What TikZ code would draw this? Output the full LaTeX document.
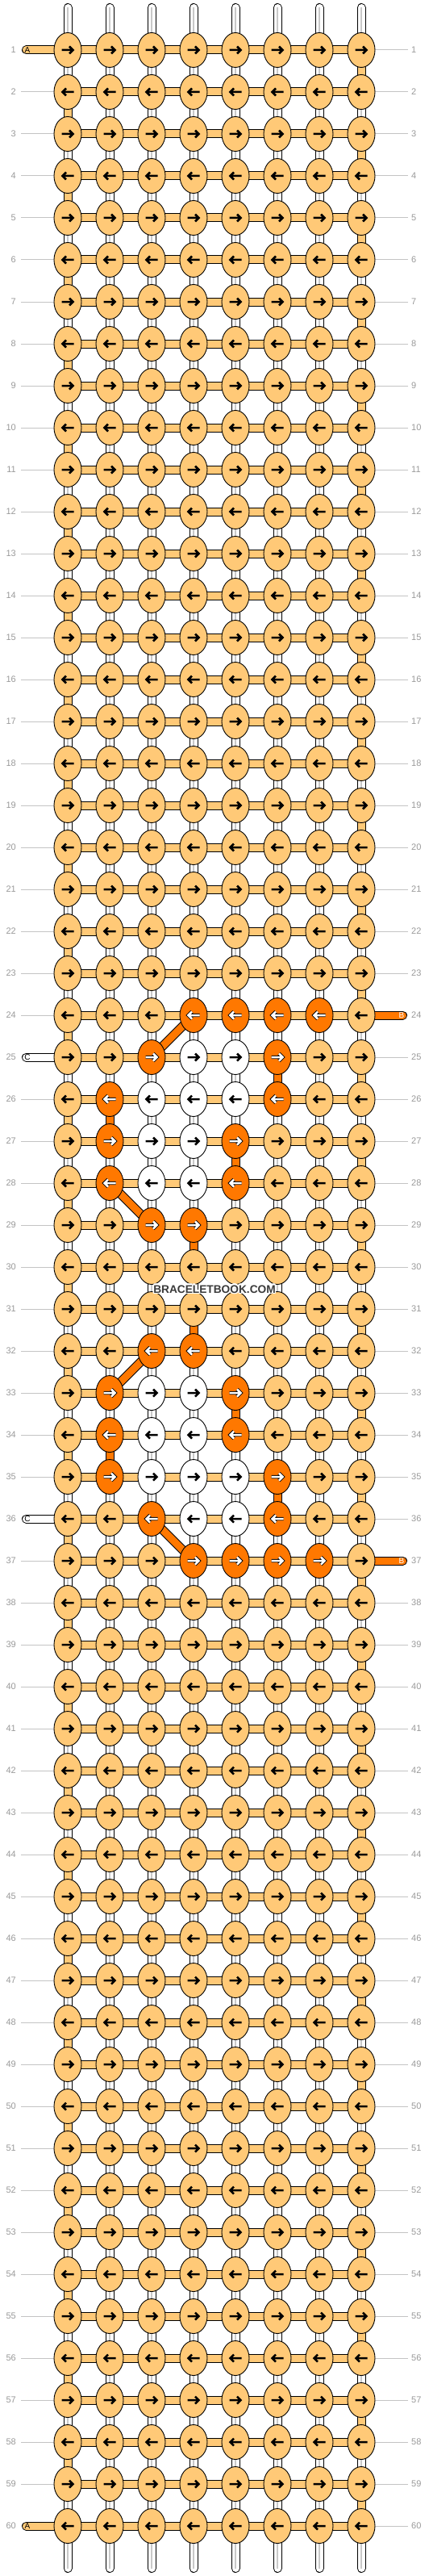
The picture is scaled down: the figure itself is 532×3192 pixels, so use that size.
\documentclass[tikz,border=0pt]{standalone}
\usepackage{fontspec}
\setmainfont{Liberation Sans}
\usepackage{contour}
\contourlength{1.3pt}
\usetikzlibrary{shapes.geometric,backgrounds}

\definecolor{lightor}{HTML}{FFC977}
\definecolor{darkor}{HTML}{FF7800}
\definecolor{rowgray}{HTML}{999999}
\definecolor{linegray}{HTML}{C4C4C4}
\definecolor{warpgray}{HTML}{C8C8C8}
\definecolor{markgray}{HTML}{3A3A3A}

% knots and warp links that are not the plain light colour
\tikzset{
  k24-4/.style=darkknot, k24-5/.style=darkknot, k24-6/.style=darkknot, k24-7/.style=darkknot,
  k25-3/.style=darkknot, k25-4/.style=whiteknot, k25-5/.style=whiteknot, k25-6/.style=darkknot,
  k26-2/.style=darkknot, k26-3/.style=whiteknot, k26-4/.style=whiteknot, k26-5/.style=whiteknot, k26-6/.style=darkknot,
  k27-2/.style=darkknot, k27-3/.style=whiteknot, k27-4/.style=whiteknot, k27-5/.style=darkknot,
  k28-2/.style=darkknot, k28-3/.style=whiteknot, k28-4/.style=whiteknot, k28-5/.style=darkknot,
  k29-3/.style=darkknot, k29-4/.style=darkknot,
  k32-3/.style=darkknot, k32-4/.style=darkknot,
  k33-2/.style=darkknot, k33-3/.style=whiteknot, k33-4/.style=whiteknot, k33-5/.style=darkknot,
  k34-2/.style=darkknot, k34-3/.style=whiteknot, k34-4/.style=whiteknot, k34-5/.style=darkknot,
  k35-2/.style=darkknot, k35-3/.style=whiteknot, k35-4/.style=whiteknot, k35-5/.style=whiteknot, k35-6/.style=darkknot,
  k36-3/.style=darkknot, k36-4/.style=whiteknot, k36-5/.style=whiteknot, k36-6/.style=darkknot,
  k37-4/.style=darkknot, k37-5/.style=darkknot, k37-6/.style=darkknot, k37-7/.style=darkknot,
  v25-6/.style=darkwarp, v26-2/.style=darkwarp, v27-5/.style=darkwarp, v29-4/.style=darkwarp,
  v31-4/.style=darkwarp, v33-5/.style=darkwarp, v34-2/.style=darkwarp, v35-6/.style=darkwarp,
}

\begin{document}
\begin{tikzpicture}[x=1pt, y=-1pt,
    knot/.style={draw, ellipse, line width=0.9pt, minimum width=34pt, minimum height=43pt, inner sep=0pt, fill=lightor},
    pen/.style={black},
    darkknot/.style={fill=darkor, pen/.style={white, preaction={draw=black, line width=4.4pt}}},
    whiteknot/.style={fill=white},
    fwd/.style={path picture={\draw[pen, line width=2.5pt, line join=miter]
        ([xshift=-7.5pt]path picture bounding box.center) -- ++(14,0) ++(-4.5,-4.5) -- ++(4.5,4.5) -- ++(-4.5,4.5);}},
    bwd/.style={path picture={\draw[pen, line width=2.5pt, line join=miter]
        ([xshift=7.5pt]path picture bounding box.center) -- ++(-14,0) ++(4.5,-4.5) -- ++(-4.5,4.5) -- ++(4.5,4.5);}},
    row/.code={\ifodd#1 \pgfkeysalso{fwd}\else\pgfkeysalso{bwd}\fi},
    vseg/.style={postaction={draw=white, line width=9pt}, postaction={draw=warpgray, line width=1.4pt}},
    warp/.style={line width=11pt, black, vseg},
    darkwarp/.style={vseg/.style={postaction={draw=darkor, line width=9pt}}},
    band/.style={line width=11pt, black, postaction={draw=lightor, line width=9pt}},
    darkband/.style={line width=11pt, black, postaction={draw=darkor, line width=9pt}},
    whiteband/.style={line width=11pt, black, postaction={draw=white, line width=9pt}},
    guide/.style={draw=linegray, line width=1pt},
    rowlab/.style={text=rowgray, font=\fontsize{11}{13}\selectfont, inner sep=0pt},
    endlab/.style={font=\fontsize{10}{12}\selectfont, inner sep=0pt},
  ]
\useasboundingbox (0,0) rectangle (532,3192);

% knots
\foreach \ro in {1,...,60}
  \foreach \co in {1,...,8}
    \node[knot, row=\ro, k\ro-\co/.try] (k\ro-\co) at ({32+52*\co}, {10+52*\ro}) {};

% row numbers
\foreach \ro in {1,...,60} {
  \node[rowlab, anchor=east] (ll\ro) at (20, {10+52*\ro}) {\ro};
  \node[rowlab, anchor=west] (rl\ro) at (510, {10+52*\ro}) {\ro};
}

% thread ends
\node[endlab] (ta1) at (34, 62) {A};
\node[endlab] (ta60) at (34, 3130) {A};
\node[endlab] (tc25) at (34, 1310) {C};
\node[endlab] (tc36) at (34, 1882) {C};
\node[endlab, text=white] (tb24) at (498, 1258) {B};
\node[endlab, text=white] (tb37) at (498, 1934) {B};

\begin{pgfonlayer}{background}
  % guide lines
  \foreach \from/\to in {2/24, 26/35, 37/59} {
    \foreach \ro in {\from,...,\to} {
      \coordinate (gl\ro) at (26, {10+52*\ro});
      \draw[guide] (gl\ro) -- (k\ro-1.west);
    }
  }
  \foreach \from/\to in {1/23, 25/36, 38/60} {
    \foreach \ro in {\from,...,\to} {
      \coordinate (gr\ro) at (506, {10+52*\ro});
      \draw[guide] (k\ro-8.east) -- (gr\ro);
    }
  }

  % warp threads
  \foreach \co in {1,...,8} {
    \coordinate (top\co) at ({32+52*\co}, 9.5);
    \coordinate (bot\co) at ({32+52*\co}, 3182.5);
    \draw[warp, line cap=round] (top\co) -- (k1-\co.center);
    \draw[warp, line cap=round] (k60-\co.center) -- (bot\co);
  }
  \foreach \ro [evaluate=\ro as \nx using int(\ro+1), evaluate=\ro as \turn using {int(mod(\ro,2)*7+1)}] in {1,...,59}
    \foreach \co in {1,...,8} {
      \ifnum\co=\turn
        \draw[band] (k\ro-\co.center) -- (k\nx-\co.center);
      \else
        \draw[v\ro-\co/.try, warp] (k\ro-\co.center) -- (k\nx-\co.center);
      \fi
    }

  % working thread along each row
  \foreach \ro in {1,...,60} {
    \foreach \co [count=\nx from 2] in {1,...,7} {
      \draw[band] (k\ro-\co.center) -- (k\ro-\nx.center);
    }
  }

  % diagonals
  \draw[darkband] (k24-4.center) -- (k25-3.center);
  \draw[darkband] (k28-2.center) -- (k29-3.center);
  \draw[darkband] (k32-3.center) -- (k33-2.center);
  \draw[darkband] (k36-3.center) -- (k37-4.center);

  % loose ends
  \foreach \ro/\kind in {1/band, 60/band, 25/whiteband, 36/whiteband} {
    \coordinate (pin\ro) at (32.5, {10+52*\ro});
    \draw[\kind, line cap=round] (pin\ro) -- (k\ro-1.center);
  }
  \foreach \ro in {24,37} {
    \coordinate (pout\ro) at (499.5, {10+52*\ro});
    \draw[darkband, line cap=round] (k\ro-8.center) -- (pout\ro);
  }
\end{pgfonlayer}

\node[font=\bfseries\fontsize{13.7}{15}\selectfont, text=markgray, inner sep=0pt] (mark) at (266, 1598) {\contour{white}{BRACELETBOOK.COM}};
\end{tikzpicture}
\end{document}
